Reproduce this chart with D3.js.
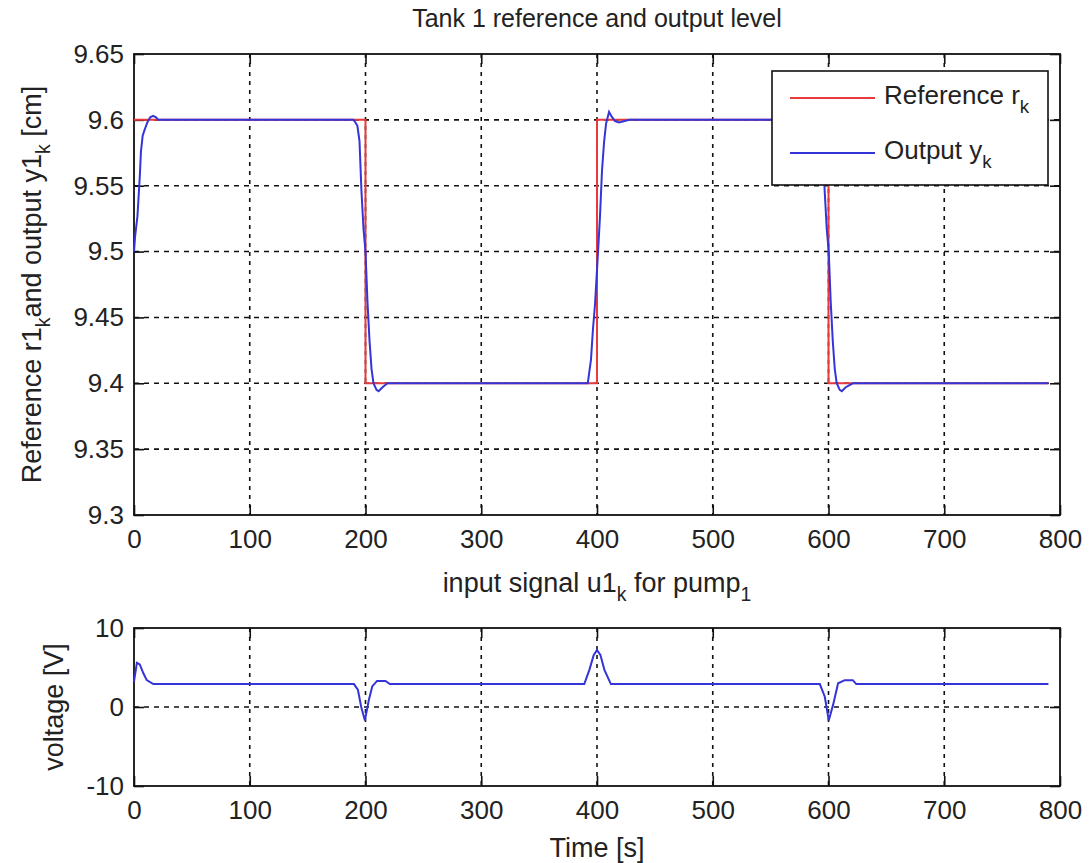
<!DOCTYPE html>
<html>
<head>
<meta charset="utf-8">
<script src="https://cdn.jsdelivr.net/npm/d3@7"></script>
<style>
  html, body { margin: 0; padding: 0; background: #fff; }
  svg text { font-family: "Liberation Sans", Arial, sans-serif; fill: #222; }
</style>
</head>
<body>
<svg id="chart" width="1091" height="863"></svg>
<script>
// ── Data ──────────────────────────────────────────────────────────────────
const refT = [0, 200, 200, 400, 400, 600, 600, 790];
const refY = [9.6, 9.6, 9.4, 9.4, 9.6, 9.6, 9.4, 9.4];

const outT = [0, 1, 3, 5, 6, 7.5, 9, 11.5, 14, 16.5, 19, 21,
  189.6, 191.3, 193, 194.8, 196.5, 198.3, 200, 201.7, 203.5, 205.2, 206.9, 209.5, 211.3, 214.7, 219,
  392, 393.1, 394.8, 396.5, 398.3, 400.9, 402.6, 404.3, 406.1, 407.8, 410.4, 413, 415.6, 419, 423, 428,
  589.8, 591.5, 593.2, 595, 596.7, 598.5, 600.2, 601.9, 603.7, 605.4, 607.1, 609.7, 611.5, 614.9, 621,
  790];
const outY = [9.5, 9.512, 9.527, 9.557, 9.576, 9.588, 9.592, 9.598, 9.602, 9.603, 9.602, 9.6,
  9.6, 9.598, 9.5955, 9.584, 9.546, 9.517, 9.5, 9.462, 9.432, 9.411, 9.4, 9.395, 9.394, 9.397, 9.4,
  9.4, 9.407, 9.418, 9.441, 9.46, 9.5, 9.527, 9.561, 9.583, 9.597, 9.606, 9.602, 9.599, 9.598, 9.599, 9.6,
  9.6, 9.598, 9.5955, 9.584, 9.546, 9.517, 9.5, 9.462, 9.432, 9.411, 9.4, 9.395, 9.394, 9.397, 9.4,
  9.4];

const uT = [0, 2.5, 5, 8, 11, 16.7,
  190, 193.4, 196.3, 199.5, 202.9, 205.8, 210, 217.3, 221,
  389, 393.4, 397.2, 400, 402.9, 406.4, 412,
  592.5, 596.8, 600.2, 604, 608.3, 614, 621, 624,
  790];
const uV = [3.2, 5.6, 5.4, 4.3, 3.4, 2.9,
  2.9, 2.2, 0, -1.7, 0.9, 2.6, 3.3, 3.3, 2.9,
  2.9, 4.7, 6.6, 7.2, 6.6, 4.7, 2.9,
  2.9, 1.3, -1.7, 0.3, 3.0, 3.4, 3.4, 2.9,
  2.9];

const xTicks = [0, 100, 200, 300, 400, 500, 600, 700, 800];
const yTicksTop = [9.3, 9.35, 9.4, 9.45, 9.5, 9.55, 9.6, 9.65];
const yTicksBottom = [-10, 0, 10];

// ── Layout ────────────────────────────────────────────────────────────────
const svg = d3.select('#chart');
const X0 = 134, X1 = 1060;
const upperBox = { y0: 54, y1: 515 };
const lowerBox = { y0: 628, y1: 786 };

const x = d3.scaleLinear().domain([0, 800]).range([X0, X1]);
const yTop = d3.scaleLinear().domain([9.3, 9.65]).range([upperBox.y1, upperBox.y0]);
const yBot = d3.scaleLinear().domain([-10, 10]).range([lowerBox.y1, lowerBox.y0]);

const RED = '#e83a3a', BLUE = '#3434d8';
const plain = d => String(+d.toFixed(3)); // matlab-style labels, plain hyphen minus

function drawPanel(y, yTicks, box) {
  const g = svg.append('g');
  // grid
  g.append('g').selectAll('line').data(xTicks.slice(1, -1)).join('line')
    .attr('x1', d => x(d)).attr('x2', d => x(d)).attr('y1', box.y0).attr('y2', box.y1)
    .attr('stroke', '#111').attr('stroke-width', 1.6).attr('stroke-dasharray', '4,5');
  g.append('g').selectAll('line').data(yTicks.slice(1, -1)).join('line')
    .attr('x1', X0).attr('x2', X1).attr('y1', d => y(d)).attr('y2', d => y(d))
    .attr('stroke', '#111').attr('stroke-width', 1.6).attr('stroke-dasharray', '5,5');

  // axes (inward ticks on all sides)
  g.append('g').attr('transform', `translate(0,${box.y1})`)
    .call(d3.axisBottom(x).tickValues(xTicks).tickSize(-10).tickPadding(15).tickFormat(plain));
  g.append('g').attr('transform', `translate(${X0},0)`)
    .call(d3.axisLeft(y).tickValues(yTicks).tickSize(-10).tickPadding(10).tickFormat(plain));
  g.append('g').attr('transform', `translate(0,${box.y0})`)
    .call(d3.axisTop(x).tickValues(xTicks).tickSize(-10).tickFormat(''));
  g.append('g').attr('transform', `translate(${X1},0)`)
    .call(d3.axisRight(y).tickValues(yTicks).tickSize(-10).tickFormat(''));
  g.selectAll('.domain').remove();
  g.selectAll('.tick line').attr('stroke', '#111').attr('stroke-width', 1.6);
  g.selectAll('.tick text').attr('font-size', '26px').attr('fill', '#222')
    .attr('font-family', '"Liberation Sans", Arial, sans-serif');

  g.append('rect').attr('x', X0).attr('y', box.y0)
    .attr('width', X1 - X0).attr('height', box.y1 - box.y0)
    .attr('fill', 'none').attr('stroke', '#111').attr('stroke-width', 1.8);
  return g;
}

// ── Upper panel ───────────────────────────────────────────────────────────
drawPanel(yTop, yTicksTop, upperBox);

const lineTop = d3.line().x(d => x(d[0])).y(d => yTop(d[1]));
svg.append('path').datum(d3.zip(refT, refY)).attr('d', lineTop)
  .attr('fill', 'none').attr('stroke', RED).attr('stroke-width', 2);
svg.append('path').datum(d3.zip(outT, outY)).attr('d', lineTop)
  .attr('fill', 'none').attr('stroke', BLUE).attr('stroke-width', 2);

// ── Lower panel ───────────────────────────────────────────────────────────
drawPanel(yBot, yTicksBottom, lowerBox);

const lineBot = d3.line().x(d => x(d[0])).y(d => yBot(d[1]));
svg.append('path').datum(d3.zip(uT, uV)).attr('d', lineBot)
  .attr('fill', 'none').attr('stroke', BLUE).attr('stroke-width', 2);

// ── Titles & labels ───────────────────────────────────────────────────────
function subText(sel, parts, size) {
  // parts: [text, isSub]
  parts.forEach(([t, sub], i) => {
    const ts = sel.append('tspan').text(t);
    if (sub) ts.attr('font-size', size * 0.72).attr('dy', size * 0.34);
    else if (i > 0 && parts[i - 1][1]) ts.attr('dy', -size * 0.34);
  });
}

const cx = (X0 + X1) / 2;
svg.append('text').attr('x', cx).attr('y', 27).attr('text-anchor', 'middle')
  .attr('font-size', 25).text('Tank 1 reference and output level');

subText(svg.append('text').attr('x', cx).attr('y', 592).attr('text-anchor', 'middle').attr('font-size', 27),
  [['input signal u1', false], ['k', true], [' for pump', false], ['1', true]], 27);

svg.append('text').attr('x', cx).attr('y', 857).attr('text-anchor', 'middle')
  .attr('font-size', 27).text('Time [s]');

subText(svg.append('text').attr('transform', `translate(41,${(upperBox.y0 + upperBox.y1) / 2}) rotate(-90)`)
    .attr('text-anchor', 'middle').attr('font-size', 27),
  [['Reference r1', false], ['k', true], ['and output y1', false], ['k', true], [' [cm]', false]], 27);

svg.append('text').attr('transform', `translate(63,${(lowerBox.y0 + lowerBox.y1) / 2}) rotate(-90)`)
  .attr('text-anchor', 'middle').attr('font-size', 27).text('voltage [V]');

// ── Legend ────────────────────────────────────────────────────────────────
const leg = svg.append('g');
leg.append('rect').attr('x', 772).attr('y', 71).attr('width', 276).attr('height', 114)
  .attr('fill', '#fff').attr('stroke', '#111').attr('stroke-width', 1.6);
const legItems = [['Reference r', RED, 98], ['Output y', BLUE, 153]];
legItems.forEach(([label, color, ly]) => {
  leg.append('line').attr('x1', 790).attr('x2', 875).attr('y1', ly).attr('y2', ly)
    .attr('stroke', color).attr('stroke-width', 2);
  subText(leg.append('text').attr('x', 884).attr('y', ly + 6).attr('font-size', 26),
    [[label, false], ['k', true]], 26);
});
</script>
</body>
</html>
